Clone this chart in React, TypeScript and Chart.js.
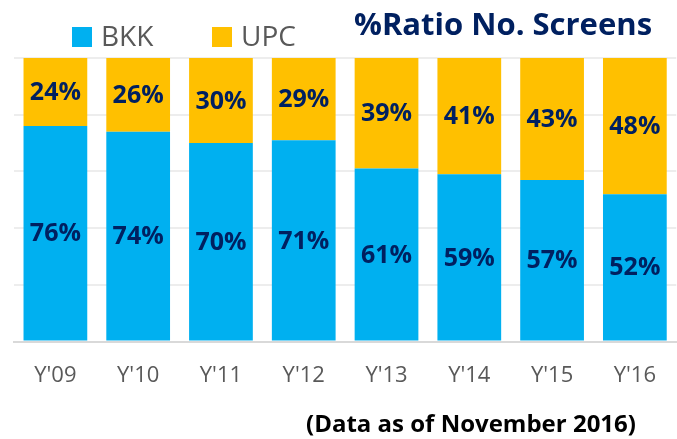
import React, { useEffect, useRef } from "react";
import { Chart, registerables } from "chart.js";

Chart.register(...registerables);

const categories = ["Y'09", "Y'10", "Y'11", "Y'12", "Y'13", "Y'14", "Y'15", "Y'16"];
const bkkValues = [76, 74, 70, 71, 61, 59, 57, 52];
const upcValues = [24, 26, 30, 29, 39, 41, 43, 48];
const seriesNames = ["BKK", "UPC"];
const titleText = "%Ratio No. Screens";
const footnoteText = "(Data as of November 2016)";

const BLUE = "#00B0F0";
const GOLD = "#FFC000";
const NAVY = "#002060";
const FONT = "'Open Sans', 'Noto Sans', sans-serif";

const overlayPlugin = {
  id: "overlay",
  afterDatasetsDraw(chart: any) {
    const ctx = chart.ctx;
    ctx.save();
    ctx.font = `bold 25px ${FONT}`;
    ctx.fillStyle = NAVY;
    ctx.textAlign = "center";
    ctx.textBaseline = "middle";
    chart.data.datasets.forEach((ds: any, di: number) => {
      const meta = chart.getDatasetMeta(di);
      meta.data.forEach((bar: any, i: number) => {
        const mid = (bar.y + bar.base) / 2;
        ctx.fillText(ds.data[i] + "%", bar.x, mid + 1);
      });
    });
    ctx.restore();
  },
  afterDraw(chart: any) {
    const ctx = chart.ctx;
    ctx.save();
    const items = [
      { name: seriesNames[0], color: BLUE, x: 72 },
      { name: seriesNames[1], color: GOLD, x: 212 },
    ];
    ctx.textBaseline = "alphabetic";
    ctx.textAlign = "left";
    items.forEach((it) => {
      ctx.fillStyle = it.color;
      ctx.fillRect(it.x, 27, 20, 20);
      ctx.fillStyle = "#595959";
      ctx.font = `28px ${FONT}`;
      ctx.fillText(it.name, it.x + 29, 46);
    });
    ctx.fillStyle = NAVY;
    ctx.font = `bold 31px ${FONT}`;
    ctx.textAlign = "center";
    ctx.fillText(titleText, 503, 35);
    ctx.fillStyle = "#000000";
    ctx.font = `bold 24px ${FONT}`;
    ctx.fillText(footnoteText, 471, 432);
    ctx.restore();
  },
};

export default function App() {
  const ref = useRef<HTMLCanvasElement | null>(null);
  useEffect(() => {
    document.body.style.margin = "0";
    const chart = new Chart(ref.current as HTMLCanvasElement, {
      type: "bar",
      data: {
        labels: categories,
        datasets: [
          { label: seriesNames[0], data: bkkValues, backgroundColor: BLUE, borderWidth: 0 },
          { label: seriesNames[1], data: upcValues, backgroundColor: GOLD, borderWidth: 0 },
        ],
      },
      options: {
        animation: false,
        responsive: true,
        maintainAspectRatio: false,
        layout: { padding: { top: 58, left: 14, right: 0, bottom: 29 } },
        plugins: { legend: { display: false }, title: { display: false }, tooltip: { enabled: false } },
        datasets: { bar: { categoryPercentage: 1, barPercentage: 0.77 } },
        scales: {
          x: {
            stacked: true,
            grid: { display: false, drawTicks: false },
            border: { display: true, color: "#D9D9D9", width: 2 },
            ticks: { color: "#595959", font: { family: FONT, size: 22 }, padding: 21 },
          },
          y: {
            stacked: true,
            min: 0,
            max: 100,
            ticks: { display: false, stepSize: 20 },
            grid: { color: "#EDEDED", lineWidth: 2, drawTicks: false },
            border: { display: false },
          },
        },
      },
      plugins: [overlayPlugin],
    });
    return () => chart.destroy();
  }, []);
  return (
    <div style={{ position: "absolute", left: 0, top: 0, width: 677, height: 439, background: "#fff" }}>
      <canvas ref={ref} />
    </div>
  );
}
